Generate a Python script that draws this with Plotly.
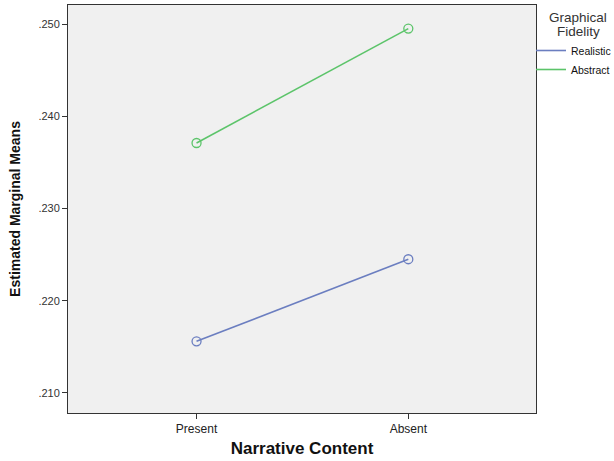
import plotly.graph_objects as go

categories = ["Present", "Absent"]
realistic = [0.2156, 0.2245]
abstract = [0.2371, 0.2495]
y_ticks = [0.210, 0.220, 0.230, 0.240, 0.250]
y_tick_labels = [".210", ".220", ".230", ".240", ".250"]
series = [("Realistic", realistic, "#6B7EC0"), ("Abstract", abstract, "#5CC46A")]

fig = go.Figure()
for name, vals, col in series:
    fig.add_trace(go.Scatter(
        x=[0, 1], y=vals, mode="lines+markers", name=name, showlegend=False,
        line=dict(color=col, width=1.6),
        marker=dict(symbol="circle-open", size=9, color=col, line=dict(width=1.3)),
    ))
for name, vals, col in series:
    fig.add_trace(go.Scatter(
        x=[None], y=[None], mode="lines", name=name, showlegend=True,
        line=dict(color=col, width=1.6),
    ))

# legend title, two centred lines
for txt, ypx in [("Graphical", 17), ("Fidelity", 31)]:
    fig.add_annotation(
        text=txt, xref="paper", yref="paper",
        x=1.0 + 42 / 468, y=1.0 - (ypx - 5) / 408, xanchor="center", yanchor="middle",
        showarrow=False, font=dict(size=13.5, color="#333"),
    )

fig.update_layout(
    width=614, height=461,
    margin=dict(l=68, r=78, t=5, b=48, autoexpand=False),
    paper_bgcolor="white", plot_bgcolor="#F0F0F0",
    font=dict(family="Liberation Sans, Arial, sans-serif", size=11, color="#222"),
    showlegend=True,
    legend=dict(
        x=1.0 - 5 / 468, xanchor="left", y=1.0 - 31 / 408, yanchor="top",
        font=dict(size=10.5, color="#111"),
        itemwidth=30, tracegroupgap=0,
        bgcolor="rgba(0,0,0,0)",
    ),
    xaxis=dict(
        range=[-0.607, 1.603], tickmode="array", tickvals=[0, 1], ticktext=categories,
        showgrid=False, zeroline=False, showline=True, linecolor="#333", linewidth=1,
        mirror=True, ticks="outside", ticklen=5, tickcolor="#333",
        tickfont=dict(size=12, color="#222"),
        title=dict(text="<b>Narrative Content</b>", font=dict(size=17, color="#111"), standoff=6),
    ),
    yaxis=dict(
        range=[0.20783, 0.25206], tickmode="array", tickvals=y_ticks, ticktext=y_tick_labels,
        showgrid=False, zeroline=False, showline=True, linecolor="#333", linewidth=1,
        mirror=True, ticks="outside", ticklen=5, tickcolor="#333",
        tickfont=dict(size=11, color="#333"),
        title=dict(text="<b>Estimated Marginal Means</b>", font=dict(size=14, color="#111"), standoff=14),
    ),
)

fig.write_html("out.html", config={"displayModeBar": False},
               post_script="document.body.style.margin='0';")
